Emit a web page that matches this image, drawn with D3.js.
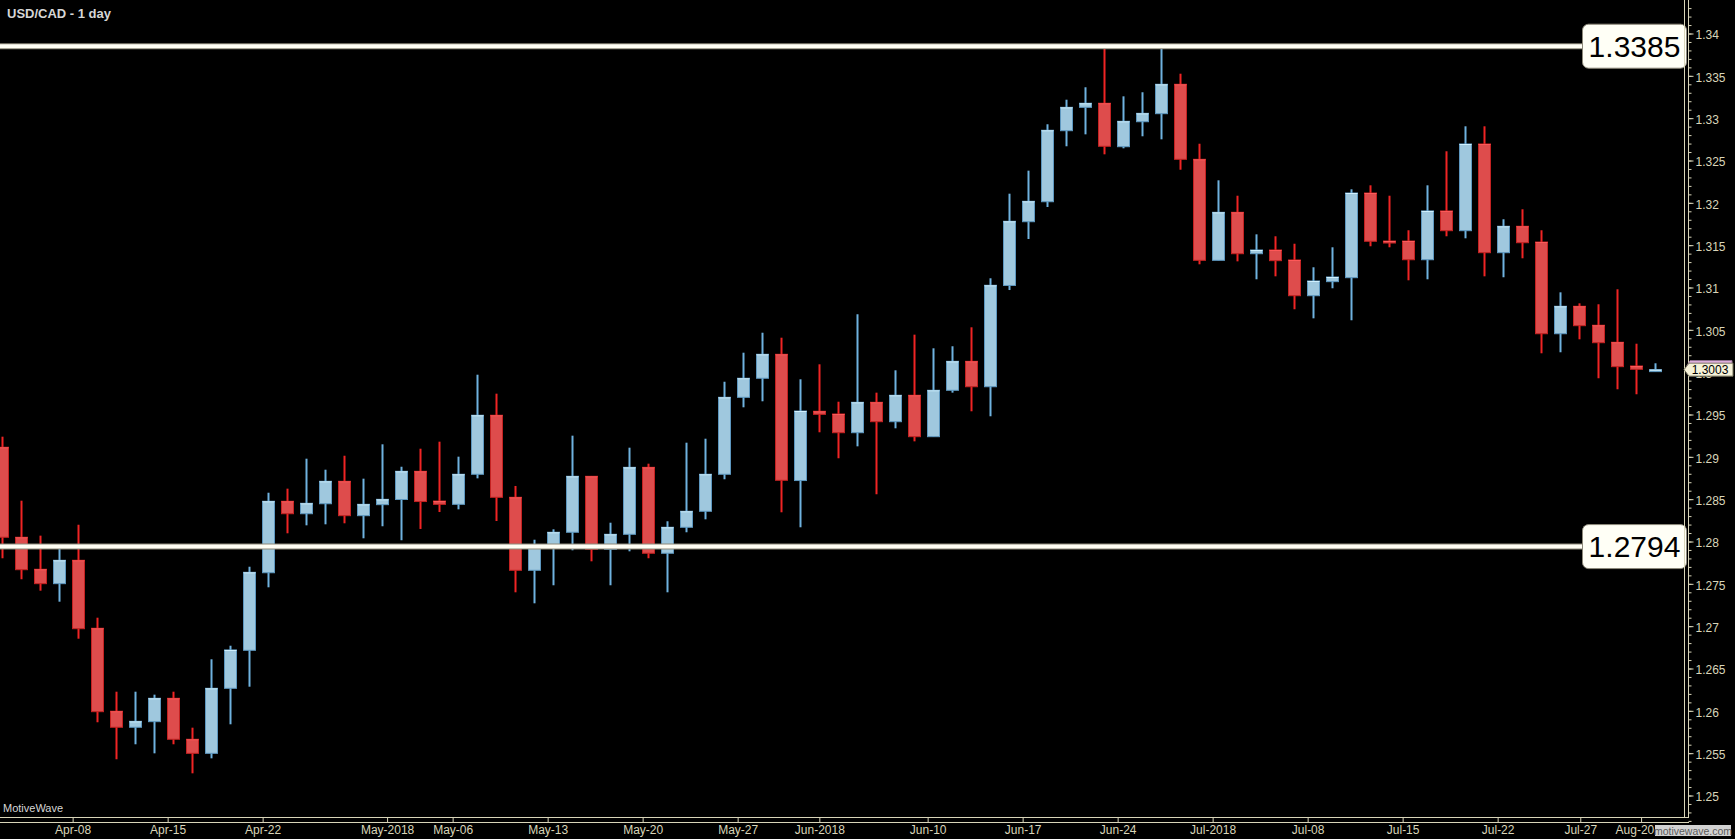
<!DOCTYPE html>
<html>
<head>
<meta charset="utf-8">
<script src="https://cdn.jsdelivr.net/npm/d3@7"></script>
<style>
html,body{margin:0;padding:0;background:#000;}
svg{display:block;}
</style>
</head>
<body>
<svg id="chart" width="1735" height="839"></svg>
<script>
// ---- data (USD/CAD daily, 2018-04-03 .. 2018-08-02) ----
const openP = [1.29113,1.28050,1.27672,1.27502,1.27778,1.26975,1.25995,1.25806,1.25872,1.26148,
1.25664,1.25498,1.26266,1.26715,1.27631,1.28475,1.28328,1.28446,1.28711,1.28305,
1.28435,1.28496,1.28829,1.28478,1.28439,1.28794,1.29491,1.28522,1.27660,1.27920,
1.28109,1.28770,1.27908,1.28085,1.28876,1.27861,1.28168,1.28357,1.28794,1.29703,
1.29928,1.30211,1.28720,1.29538,1.29506,1.29285,1.29644,1.29415,1.29727,1.29238,
1.29786,1.30128,1.29828,1.31024,1.31777,1.32013,1.32852,1.33128,1.33176,1.32663,
1.32958,1.33053,1.33400,1.32514,1.31321,1.31888,1.31399,1.31443,1.31325,1.30903,
1.31069,1.31116,1.32116,1.31549,1.31549,1.31328,1.31904,1.31671,1.32695,1.31411,
1.31723,1.31537,1.30454,1.30778,1.30554,1.30353,1.30073,1.30020];
const highP = [1.29238,1.28482,1.28069,1.27920,1.28198,1.27100,1.26226,1.26226,1.26191,1.26226,
1.25801,1.26609,1.26769,1.27702,1.28576,1.28624,1.28978,1.28848,1.29013,1.28742,
1.29148,1.28883,1.29096,1.29179,1.29002,1.29970,1.29746,1.28656,1.28021,1.28144,
1.29250,1.28774,1.28222,1.29108,1.28919,1.28239,1.29167,1.29214,1.29887,1.30230,
1.30466,1.30407,1.29916,1.30093,1.29651,1.30684,1.29758,1.30022,1.30443,1.30282,
1.30306,1.30530,1.31109,1.32108,1.32380,1.32928,1.33218,1.33365,1.33850,1.33258,
1.33306,1.33850,1.33525,1.32698,1.32266,1.32084,1.31628,1.31605,1.31517,1.31239,
1.31475,1.32160,1.32207,1.32084,1.31676,1.32207,1.32609,1.32904,1.32904,1.31806,
1.31924,1.31676,1.30943,1.30813,1.30802,1.30979,1.30336,1.30105];
const lowP = [1.27802,1.27554,1.27419,1.27289,1.26852,1.25865,1.25428,1.25605,1.25498,1.25605,
1.25262,1.25439,1.25841,1.26285,1.27459,1.28097,1.28191,1.28203,1.28215,1.28038,
1.28180,1.28015,1.28148,1.28348,1.28380,1.28746,1.28242,1.27400,1.27270,1.27483,
1.27896,1.27766,1.27483,1.27884,1.27802,1.27400,1.28109,1.28262,1.28735,1.29585,
1.29656,1.28345,1.28168,1.29290,1.28983,1.29124,1.28558,1.29337,1.29183,1.29238,
1.29758,1.29538,1.29479,1.30970,1.31573,1.31951,1.32668,1.32809,1.32573,1.32644,
1.32786,1.32750,1.32391,1.31274,1.31321,1.31309,1.31097,1.31132,1.30743,1.30636,
1.30991,1.30613,1.31487,1.31475,1.31085,1.31097,1.31605,1.31581,1.31132,1.31121,
1.31345,1.30223,1.30235,1.30388,1.29928,1.29798,1.29739,1.30006];
const closeP = [1.28050,1.27667,1.27502,1.27778,1.26970,1.25990,1.25806,1.25876,1.26148,1.25664,
1.25498,1.26266,1.26719,1.27636,1.28475,1.28328,1.28451,1.28711,1.28305,1.28439,
1.28498,1.28829,1.28472,1.28439,1.28794,1.29491,1.28522,1.27660,1.27920,1.28109,
1.28770,1.27908,1.28085,1.28876,1.27861,1.28168,1.28357,1.28794,1.29703,1.29928,
1.30211,1.28723,1.29541,1.29502,1.29285,1.29644,1.29415,1.29727,1.29238,1.29786,
1.30128,1.29828,1.31026,1.31782,1.32018,1.32857,1.33128,1.33176,1.32668,1.32963,
1.33057,1.33400,1.32514,1.31321,1.31888,1.31399,1.31443,1.31317,1.30903,1.31077,
1.31124,1.32116,1.31546,1.31529,1.31328,1.31904,1.31671,1.32695,1.31411,1.31723,
1.31529,1.30454,1.30778,1.30549,1.30348,1.30065,1.30034,1.30030];

// time-axis labels and their bar positions
const xTickLabels = ["Apr-08","Apr-15","Apr-22","May-2018","May-06","May-13","May-20","May-27","Jun-2018","Jun-10","Jun-17","Jun-24","Jul-2018","Jul-08","Jul-15","Jul-22","Jul-27","Aug-2018"];
const xTickBars   = [3.7,8.7,13.7,20.25,23.7,28.7,33.7,38.7,43.0,48.7,53.7,58.7,63.7,68.7,73.7,78.7,83.05,86.25];

// horizontal levels
const levels = [1.3385, 1.2794];
const lastPrice = 1.3003;
const title = "USD/CAD - 1 day";

// ---- drawing ----
const W = 1735, H = 839;
const plotRight = 1684, axisX = 1688, plotBottom = 818;
const svg = d3.select("#chart");
const font = "'Liberation Sans', Arial, sans-serif";

const n = closeP.length;
const bars = d3.range(n).map(i => ({i, o: openP[i], h: highP[i], l: lowP[i], c: closeP[i]}));

const x = d3.scaleLinear().domain([0, n - 1]).range([2.33, 2.33 + 19 * (n - 1)]);
const y = d3.scaleLinear().domain([1.25, 1.34]).range([795.5, 33.5]);

svg.append("rect").attr("width", W).attr("height", H).attr("fill", "#000");

const defs = svg.append("defs");
defs.append("clipPath").attr("id", "plotclip").append("rect")
  .attr("x", 0).attr("y", 0).attr("width", plotRight).attr("height", plotBottom);

const plot = svg.append("g").attr("clip-path", "url(#plotclip)");

// candles
const up = d => d.c >= d.o;
const g = plot.append("g");
g.selectAll("line.wick").data(bars).join("line")
  .attr("class", "wick")
  .attr("x1", d => Math.round(x(d.i)) + 0.5).attr("x2", d => Math.round(x(d.i)) + 0.5)
  .attr("y1", d => y(d.h)).attr("y2", d => y(d.l))
  .attr("stroke", d => up(d) ? "#6fb2df" : "#f02424")
  .attr("stroke-width", 2);

const bodyW = 12;
g.selectAll("rect.body").data(bars).join("rect")
  .attr("class", "body")
  .attr("x", d => Math.round(x(d.i)) + 0.5 - bodyW / 2)
  .attr("width", bodyW)
  .attr("y", d => y(Math.max(d.o, d.c)))
  .attr("height", d => Math.max(Math.abs(y(d.o) - y(d.c)), 2))
  .attr("fill", d => up(d) ? "#9fc8de" : "#de4c4c")
  .attr("stroke", d => up(d) ? "#5d97bf" : "#c42222")
  .attr("stroke-width", 1);
// highlight on top edge
g.selectAll("line.hl").data(bars).join("line")
  .attr("class", "hl")
  .attr("x1", d => Math.round(x(d.i)) + 0.5 - bodyW / 2)
  .attr("x2", d => Math.round(x(d.i)) + 0.5 + bodyW / 2)
  .attr("y1", d => y(Math.max(d.o, d.c)) + 0.5)
  .attr("y2", d => y(Math.max(d.o, d.c)) + 0.5)
  .attr("stroke", d => up(d) ? "#d2f2ff" : "#ff5a5a")
  .attr("stroke-width", 1);

// horizontal levels
levels.forEach(v => {
  const yy = y(v);
  plot.append("line").attr("x1", 0).attr("x2", plotRight).attr("y1", yy).attr("y2", yy)
    .attr("stroke", "#8d897a").attr("stroke-width", 6);
  plot.append("line").attr("x1", 0).attr("x2", plotRight).attr("y1", yy).attr("y2", yy)
    .attr("stroke", "#fffef4").attr("stroke-width", 4);
});

// level label boxes
levels.forEach(v => {
  const yy = y(v);
  svg.append("rect").attr("x", 1582.5).attr("y", yy - 22).attr("width", 104).attr("height", 44)
    .attr("rx", 6).attr("ry", 6)
    .attr("fill", "#fffff6").attr("stroke", "#8d897a").attr("stroke-width", 1);
  svg.append("text").attr("x", 1634.5).attr("y", yy).attr("dy", "0.36em")
    .attr("text-anchor", "middle").attr("font-family", font).attr("font-size", 30)
    .attr("fill", "#000").text(d3.format(".4f")(v));
});

// title
svg.append("text").attr("x", 7).attr("y", 18).attr("font-family", font)
  .attr("font-size", 13).attr("font-weight", "bold").attr("fill", "#d6d6d6").text(title);
svg.append("text").attr("x", 3).attr("y", 812).attr("font-family", font)
  .attr("font-size", 11).attr("fill", "#d6d6d6").text("MotiveWave");

// y axis
const axisColor = "#d9d5b9";
svg.append("line").attr("x1", plotRight + 0.5).attr("x2", plotRight + 0.5).attr("y1", 0).attr("y2", plotBottom)
  .attr("stroke", axisColor).attr("stroke-width", 1);
const yAxis = d3.axisRight(y).tickValues(d3.range(1.25, 1.3401, 0.005).map(v => +v.toFixed(3)))
  .tickFormat(d => String(+d.toFixed(3))).tickSize(5).tickPadding(2);
const ya = svg.append("g").attr("transform", `translate(${axisX + 0.5},0)`).call(yAxis);
ya.select(".domain").attr("stroke", axisColor).attr("d", `M0,0V${plotBottom}`);
ya.selectAll(".tick line").attr("stroke", axisColor);
ya.selectAll(".tick text").attr("fill", axisColor).attr("font-family", font).attr("font-size", 12)
  .attr("dy", "0.45em");
const yMinor = d3.axisRight(y).tickValues(d3.range(1.247, 1.3431, 0.001).map(v => +v.toFixed(3)))
  .tickFormat("").tickSize(3);
const ym = svg.append("g").attr("transform", `translate(${axisX + 0.5},0)`).call(yMinor);
ym.select(".domain").remove();
ym.selectAll(".tick line").attr("stroke", axisColor);

// x axis
svg.append("line").attr("x1", 0).attr("x2", axisX + 1).attr("y1", plotBottom - 0.5).attr("y2", plotBottom - 0.5)
  .attr("stroke", axisColor);
svg.append("line").attr("x1", 0).attr("x2", axisX + 1).attr("y1", plotBottom + 4.5).attr("y2", plotBottom + 4.5)
  .attr("stroke", axisColor);
const xAxis = d3.axisBottom(x).tickValues(xTickBars)
  .tickFormat((d, i) => xTickLabels[i]).tickSize(5).tickPadding(3);
const xa = svg.append("g").attr("transform", `translate(0,${plotBottom - 0.5})`).call(xAxis);
xa.select(".domain").remove();
xa.selectAll(".tick line").attr("stroke", axisColor);
xa.selectAll(".tick text").attr("fill", axisColor).attr("font-family", font).attr("font-size", 12);

// last price marker
const ly = y(lastPrice);
svg.append("path").attr("d", `M1687,${ly - 4} l3,-5 h42 v11 h-45 z`)
  .attr("fill", "#e9b5e9").attr("stroke", "#9a7a9a");
svg.append("path").attr("d", `M1684,${ly} l5,-6.5 h44 v13 h-44 z`)
  .attr("fill", "#f6f2d8").attr("stroke", "#77745f");
svg.append("text").attr("x", 1710).attr("y", ly).attr("dy", "0.36em").attr("text-anchor", "middle")
  .attr("font-family", font).attr("font-size", 12).attr("fill", "#000").text(d3.format(".4f")(lastPrice));

// watermark
svg.append("rect").attr("x", 1655).attr("y", 825).attr("width", 76).attr("height", 11).attr("fill", "#d2d2d2");
svg.append("text").attr("x", 1693).attr("y", 834.5).attr("text-anchor", "middle")
  .attr("font-family", font).attr("font-size", 10.5).attr("fill", "#5a5a5a").text("motivewave.com");
</script>
</body>
</html>
